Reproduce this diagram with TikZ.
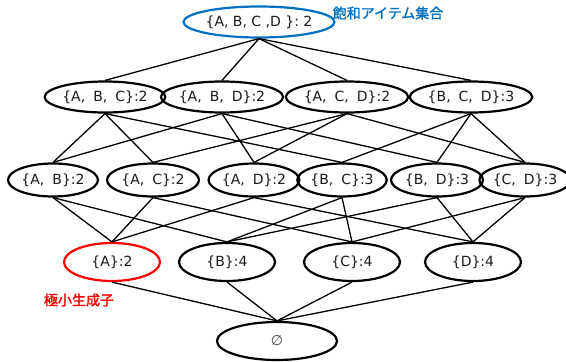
\documentclass[tikz,border=0pt]{standalone}
\usepackage{fontspec}
\setmainfont{DejaVu Sans}[WordSpace=1.8]
\newfontfamily\topfont{DejaVu Sans}
\newfontfamily\cjk{Noto Sans CJK JP}[AutoFakeBold=1.5]
\usetikzlibrary{shapes.geometric}
\definecolor{myblue}{HTML}{0070C0}
\definecolor{myred}{HTML}{FF0000}
\begin{document}
\begin{tikzpicture}[x=1pt,y=-1pt,
  setnode/.style={ellipse,draw=black,line width=2.2pt,inner sep=0pt,
    font=\fontsize{14}{16}\selectfont,text=black!90},
  r3/.style={setnode,minimum width=106pt,minimum height=31pt},
  r2/.style={setnode,minimum width=88pt,minimum height=33pt},
  r1/.style={setnode,minimum width=96pt,minimum height=38pt},
  edge/.style={line width=1.3pt,black},
  note/.style={font=\cjk\bfseries\fontsize{14}{16}\selectfont}]
\path[use as bounding box] (0,0) rectangle (566,362);
% nodes
\node[setnode,draw=myblue,minimum width=123pt,minimum height=31pt,font=\topfont\fontsize{14}{16}\selectfont] (top) at (259,22) {\{A, B, C ,D \}: 2};
\node[r3] (abc) at (105,97) {\{A, B, C\}:2};
\node[r3] (abd) at (222,97) {\{A, B, D\}:2};
\node[r3] (acd) at (347,97) {\{A, C, D\}:2};
\node[r3] (bcd) at (471,97) {\{B, C, D\}:3};
\node[r2,minimum width=90pt] (ab) at (53,180) {\{A, B\}:2};
\node[r2,minimum width=92pt] (ac) at (153,180) {\{A, C\}:2};
\node[r2,minimum width=90pt] (ad) at (254,180) {\{A, D\}:2};
\node[r2,minimum width=81pt] (bc) at (342,180) {\{B, C\}:3};
\node[r2,minimum width=92pt] (bd) at (437,180) {\{B, D\}:3};
\node[r2,minimum width=77pt] (cd) at (525,180) {\{C, D\}:3};
\node[r1,draw=myred] (a) at (112,262) {\{A\}:2};
\node[r1] (b) at (227,262) {\{B\}:4};
\node[r1] (c) at (352,262) {\{C\}:4};
\node[r1] (d) at (473,262) {\{D\}:4};
\node[setnode,minimum width=120pt,minimum height=38pt,text=black!75] (e) at (277,341) {∅};
% labels
\node[note,text=myblue] (lbltop) at (388,13) {飽和アイテム集合};
\node[note,text=myred] (lblmin) at (79,300) {極小生成子};
% edges
\foreach \u in {abc,abd,acd,bcd} \draw[edge] (top.south) -- (\u.north);
\foreach \u in {ab,ac,bc} \draw[edge] (abc.south) -- (\u.north);
\foreach \u in {ab,ad,bd} \draw[edge] (abd.south) -- (\u.north);
\foreach \u in {ac,ad,cd} \draw[edge] (acd.south) -- (\u.north);
\foreach \u in {bc,bd,cd} \draw[edge] (bcd.south) -- (\u.north);
\foreach \u in {a,b} \draw[edge] (ab.south) -- (\u.north);
\foreach \u in {a,c} \draw[edge] (ac.south) -- (\u.north);
\foreach \u in {a,d} \draw[edge] (ad.south) -- (\u.north);
\foreach \u in {b,c} \draw[edge] (bc.south) -- (\u.north);
\foreach \u in {b,d} \draw[edge] (bd.south) -- (\u.north);
\foreach \u in {c,d} \draw[edge] (cd.south) -- (\u.north);
\foreach \u in {a,b,c,d} \draw[edge] (\u.south) -- (e.north);
\end{tikzpicture}
\end{document}
